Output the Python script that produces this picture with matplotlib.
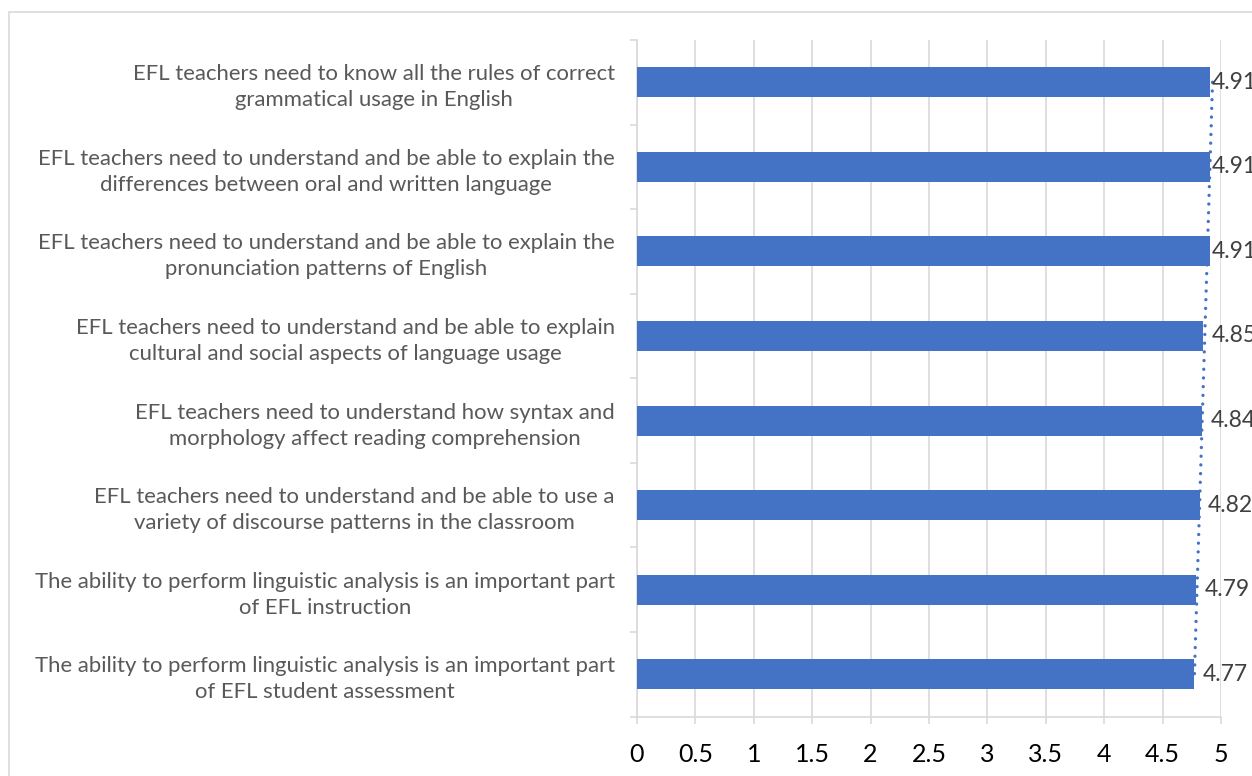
import numpy as np
import matplotlib.pyplot as plt
from matplotlib.patches import Rectangle

plt.rcParams['font.family'] = ['Lato', 'DejaVu Sans']

# survey statements, top to bottom
statements = [
    "EFL teachers need to know all the rules of correct\ngrammatical usage in English",
    "EFL teachers need to understand and be able to explain the\ndifferences between oral and written language",
    "EFL teachers need to understand and be able to explain the\npronunciation patterns of English",
    "EFL teachers need to understand and be able to explain\ncultural and social aspects of language usage",
    "EFL teachers need to understand how syntax and\nmorphology affect reading comprehension",
    "EFL teachers need to understand and be able to use a\nvariety of discourse patterns in the classroom",
    "The ability to perform linguistic analysis is an important part\nof EFL instruction",
    "The ability to perform linguistic analysis is an important part\nof EFL student assessment",
]
mean_scores = [4.91, 4.91, 4.91, 4.85, 4.84, 4.82, 4.79, 4.77]
x_ticks = [0, 0.5, 1, 1.5, 2, 2.5, 3, 3.5, 4, 4.5, 5]

bar_color = '#4472C4'
grid_color = '#D9D9D9'
text_color = '#595959'

fig = plt.figure(figsize=(12.52, 7.76), dpi=100)
ax = fig.add_axes([637 / 1252, 1 - 716.5 / 776, 584 / 1252, 676.5 / 776])

# chart border (runs off the right and bottom edges)
fig.patches.append(Rectangle((9 / 1252, -0.05), 1.1, 1 - 12 / 776 + 0.05,
                             transform=fig.transFigure, fill=False,
                             edgecolor=grid_color, linewidth=1.2))

n = len(statements)
y = np.arange(n)
ax.barh(y, mean_scores, height=0.355, color=bar_color, zorder=3)

# linear trendline across categories
coef = np.polyfit(y, mean_scores, 1)
ax.plot(np.polyval(coef, y), y, linestyle=(0, (0.01, 2.6)), color=bar_color,
        linewidth=2.4, dash_capstyle='round', zorder=4)

# value labels sit just past the bar end, but are held back near the right edge
for yi, v in zip(y, mean_scores):
    ax.text(min(v + 0.07, 4.92), yi, f"{v:.2f}", va='center', ha='left',
            fontsize=16.5, color='#404040', clip_on=False, zorder=5)

ax.set_xlim(0, 5)
ax.set_ylim(n - 0.5, -0.5)
ax.set_xticks(x_ticks)
ax.set_xticklabels([f"{t:g}" for t in x_ticks], fontsize=18, color='black')
ax.set_yticks(y)
ax.set_yticklabels(statements, fontsize=15.9, color=text_color)
for lbl in ax.get_yticklabels():
    lbl.set_multialignment('center')
    lbl.set_linespacing(1.38)
ax.set_yticks(np.arange(n + 1) - 0.5, minor=True)

ax.tick_params(axis='y', which='major', length=0, pad=16)
ax.tick_params(axis='y', which='minor', length=5, color=grid_color, width=1.2)
ax.tick_params(axis='x', length=5, color=grid_color, width=1.2, pad=14)

ax.grid(axis='x', color=grid_color, linewidth=1.2, zorder=0)
for side in ['top', 'right']:
    ax.spines[side].set_visible(False)
for side in ['left', 'bottom']:
    ax.spines[side].set_color(grid_color)
    ax.spines[side].set_linewidth(1.2)

fig.savefig('out.png', dpi=100)
